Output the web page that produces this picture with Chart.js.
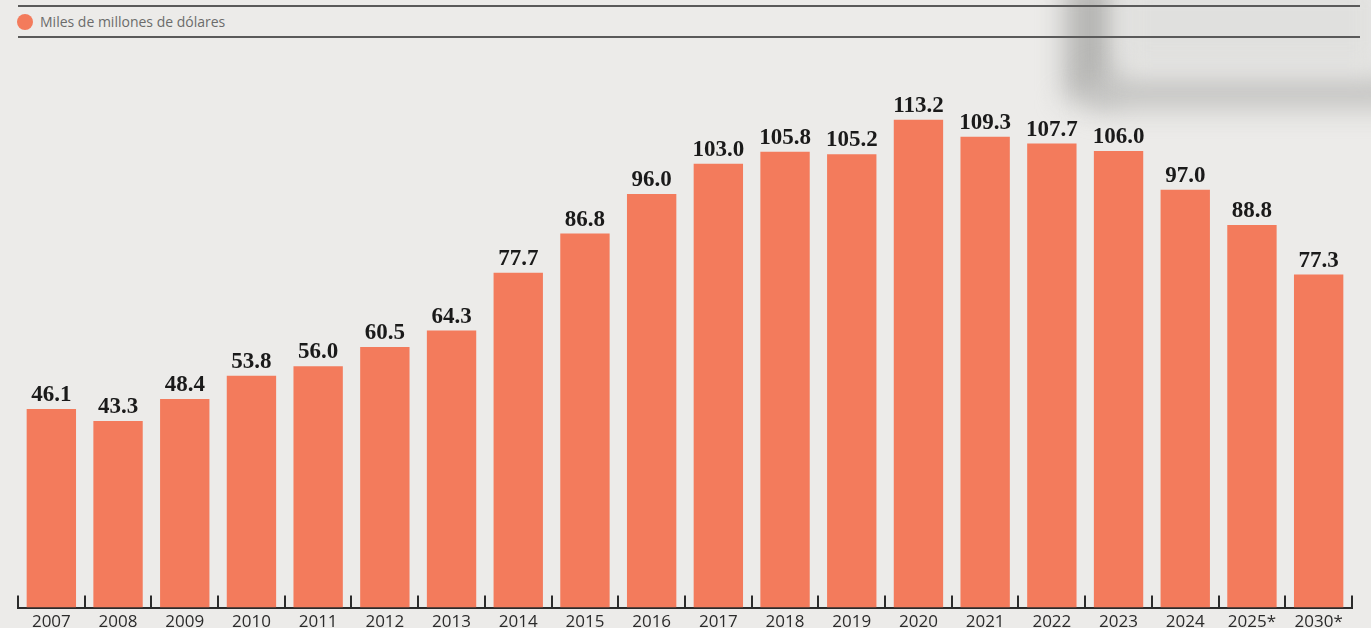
<!DOCTYPE html>
<html>
<head>
<meta charset="utf-8">
<script src="https://cdn.jsdelivr.net/npm/chart.js@4/dist/chart.umd.min.js"></script>
<style>
  html, body { margin: 0; padding: 0; }
  body {
    width: 1371px; height: 628px; overflow: hidden; position: relative;
    background: #ecebe9;
    font-family: "Open Sans", "Noto Sans", sans-serif;
  }
  .shade { position: absolute; filter: blur(14px); }
  .rule { position: absolute; left: 18px; right: 11px; height: 2px; background: #5a5a5a; }
  .legend { position: absolute; left: 17px; top: 12px; font-size: 14px; color: #6b6b6b; display: flex; align-items: center; }
  .legend span.dot { width: 16px; height: 16px; border-radius: 50%; background: #f37b5c; margin-right: 7px; display: inline-block; }
  #wrap { position: absolute; left: 0; top: 0; width: 1371px; height: 636px; }
</style>
</head>
<body>
<div class="shade" style="left:1065px; top:-20px; width:50px; height:120px; background:#b5b5b3;"></div>
<div class="shade" style="left:1090px; top:76px; width:320px; height:32px; background:#c2c2c0;"></div>
<div class="shade" style="left:1120px; top:-20px; width:260px; height:90px; background:#e0e0de;"></div>
<div class="rule" style="top:5px;"></div>
<div class="rule" style="top:36px;"></div>
<div class="legend"><span class="dot"></span>Miles de millones de dólares</div>
<div id="wrap"><canvas id="chart"></canvas></div>
<script>
const years = ['2007', '2008', '2009', '2010', '2011', '2012', '2013', '2014', '2015', '2016',
               '2017', '2018', '2019', '2020', '2021', '2022', '2023', '2024', '2025*', '2030*'];
const values = [46.1, 43.3, 48.4, 53.8, 56.0, 60.5, 64.3, 77.7, 86.8, 96.0,
                103.0, 105.8, 105.2, 113.2, 109.3, 107.7, 106.0, 97.0, 88.8, 77.3];

// value labels above each bar
const valueLabels = {
    id: 'valueLabels',
    afterDatasetsDraw(chart) {
        const ctx = chart.ctx;
        const meta = chart.getDatasetMeta(0);
        ctx.save();
        ctx.font = 'bold 23px "Liberation Serif", serif';
        ctx.fillStyle = '#1a1a1a';
        ctx.textAlign = 'center';
        ctx.textBaseline = 'alphabetic';
        meta.data.forEach((bar, i) => {
            ctx.fillText(values[i].toFixed(1), bar.x, bar.y - 8);
        });
        ctx.restore();
    }
};

// upward tick marks at category boundaries
const boundaryTicks = {
    id: 'boundaryTicks',
    afterDraw(chart) {
        const ctx = chart.ctx;
        const x = chart.scales.x;
        const half = (x.getPixelForValue(1) - x.getPixelForValue(0)) / 2;
        const bottom = chart.chartArea.bottom;
        ctx.save();
        ctx.strokeStyle = '#2b2b2b';
        ctx.lineWidth = 2;
        for (let i = 0; i <= years.length; i++) {
            const px = Math.round(x.getPixelForValue(0) - half + i * half * 2);
            ctx.beginPath();
            ctx.moveTo(px, bottom + 1);
            ctx.lineTo(px, bottom - 12);
            ctx.stroke();
        }
        ctx.restore();
    }
};

new Chart(document.getElementById('chart'), {
    type: 'bar',
    data: {
        labels: years,
        datasets: [{
            data: values,
            backgroundColor: '#f37b5c',
            borderWidth: 0,
            barPercentage: 0.74,
            categoryPercentage: 1
        }]
    },
    options: {
        responsive: true,
        maintainAspectRatio: false,
        animation: false,
        layout: { padding: { left: 18, right: 19, top: 38, bottom: 0 } },
        plugins: { legend: { display: false }, tooltip: { enabled: false } },
        scales: {
            x: {
                grid: { display: false, drawTicks: false },
                border: { display: true, color: '#2b2b2b', width: 2 },
                ticks: {
                    color: '#2b2b2b',
                    padding: 4,
                    font: { family: '"Open Sans", sans-serif', size: 17 }
                }
            },
            y: {
                display: false,
                min: 0,
                max: 132.2
            }
        }
    },
    plugins: [valueLabels, boundaryTicks]
});
</script>
</body>
</html>
